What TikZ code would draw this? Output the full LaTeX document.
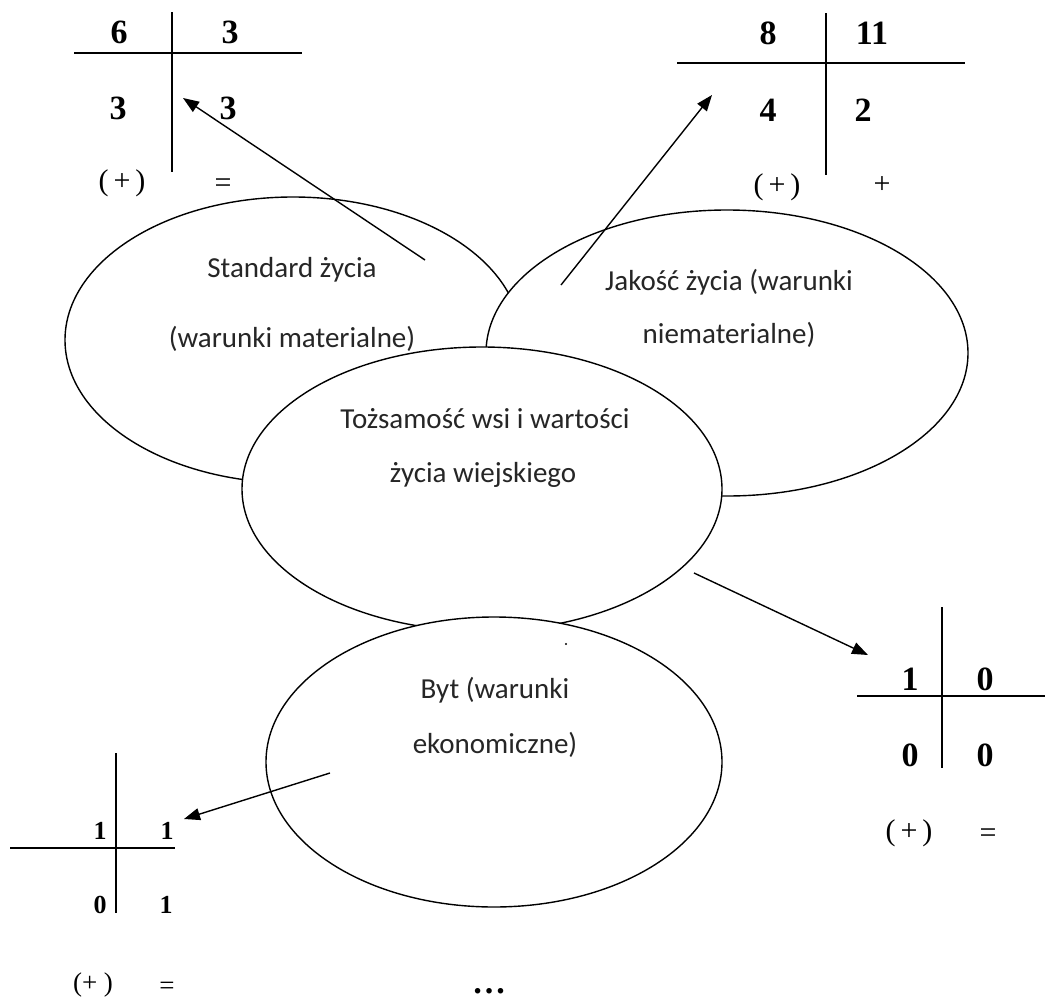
\documentclass[tikz,border=0pt]{standalone}
\usepackage{fontspec}
\setmainfont{Liberation Serif}
\newfontfamily\carlito{Carlito}
\usetikzlibrary{arrows.meta,shapes.geometric}
\begin{document}
\begin{tikzpicture}[x=1pt,y=-1pt,
  ell/.style={ellipse,draw,fill=white,line width=1.4pt,inner sep=0pt},
  lbl/.style={font=\carlito\fontsize{29}{35}\selectfont,anchor=base,inner sep=0pt,text=black!85},
  dig/.style={font=\bfseries\fontsize{34}{40}\selectfont,inner sep=0pt},
  digs/.style={font=\bfseries\fontsize{26}{32}\selectfont,inner sep=0pt},
  sym/.style={font=\fontsize{30}{35}\selectfont,inner sep=0pt},
  syms/.style={font=\fontsize{27}{32}\selectfont,inner sep=0pt},
  rule/.style={line width=1.6pt},
  arr/.style={line width=1.4pt,-{Triangle[length=16pt,width=12pt]}}]
\fill[white] (0,0) rectangle (1045,999);
\useasboundingbox (0,0) rectangle (1045,999);
% ellipses
\node[ell,minimum width=456pt,minimum height=286pt] (e1) at (293,340) {};
\node[ell,minimum width=482pt,minimum height=286pt] (e2) at (727,353) {};
\node[ell,minimum width=480pt,minimum height=284pt] (e3) at (482,489) {};
\node[ell,minimum width=456pt,minimum height=290pt] (e4) at (494,762) {};
% labels
\node[lbl] (s1) at (292,277) {Standard życia};
\node[lbl] (s2) at (292,347) {(warunki materialne)};
\node[lbl] (j1) at (729,290) {Jakość życia (warunki};
\node[lbl] (j2) at (729,343) {niematerialne)};
\node[lbl] (t1) at (485,428) {Tożsamość wsi i wartości};
\node[lbl] (t2) at (483,482) {życia wiejskiego};
\node[lbl] (b1) at (495,698) {Byt (warunki};
\node[lbl] (b2) at (495,753) {ekonomiczne)};
\fill (566,644) circle (1.2pt);
% top-left table
\draw[rule] (74,53) -- (302,53);
\draw[rule] (172,12) -- (172,172);
\node[dig] (tl11) at (119,32) {6};
\node[dig] (tl12) at (230,32) {3};
\node[dig] (tl21) at (118,108) {3};
\node[dig] (tl22) at (228,108) {3};
\node[sym] (tlp) at (122,183) {(\,+\,)};
\node[sym] (tle) at (223,186) {=};
% top-right table
\draw[rule] (677,63) -- (965,63);
\draw[rule] (826,13) -- (826,175);
\node[dig] (tr11) at (768,33) {8};
\node[dig] (tr12) at (872,33) {11};
\node[dig] (tr21) at (768,110) {4};
\node[dig] (tr22) at (863,110) {2};
\node[sym] (trp) at (777,187) {(\,+\,)};
\node[sym] (trq) at (882,185) {+};
% right table
\draw[rule] (857,696) -- (1045,696);
\draw[rule] (942,607) -- (942,768);
\node[dig] (r11) at (910,679) {1};
\node[dig] (r12) at (985,679) {0};
\node[dig] (r21) at (910,755) {0};
\node[dig] (r22) at (985,755) {0};
\node[sym] (rp) at (909,833) {(\,+\,)};
\node[sym] (re) at (988,836) {=};
% bottom-left table
\draw[rule] (10,848) -- (175,848);
\draw[rule] (116,753) -- (116,913);
\node[digs] (bl11) at (100,831) {1};
\node[digs] (bl12) at (167,831) {1};
\node[digs] (bl21) at (100,905) {0};
\node[digs] (bl22) at (166,905) {1};
\node[syms] (blp) at (93,985) {(+\ )};
\node[syms] (ble) at (167,988) {=};
\node[font=\bfseries\fontsize{34}{38}\selectfont,anchor=base,inner sep=0pt] (dots) at (489,993) {…};
% arrows
\coordinate (a1s) at (425,260); \coordinate (a1e) at (183,98);
\coordinate (a2s) at (561,285); \coordinate (a2e) at (712,95);
\coordinate (a3s) at (694,573); \coordinate (a3e) at (868,655);
\coordinate (a4s) at (330,773); \coordinate (a4e) at (184,819);
\draw[arr] (a1s) -- (a1e);
\draw[arr] (a2s) -- (a2e);
\draw[arr] (a3s) -- (a3e);
\draw[arr] (a4s) -- (a4e);
\end{tikzpicture}
\end{document}
